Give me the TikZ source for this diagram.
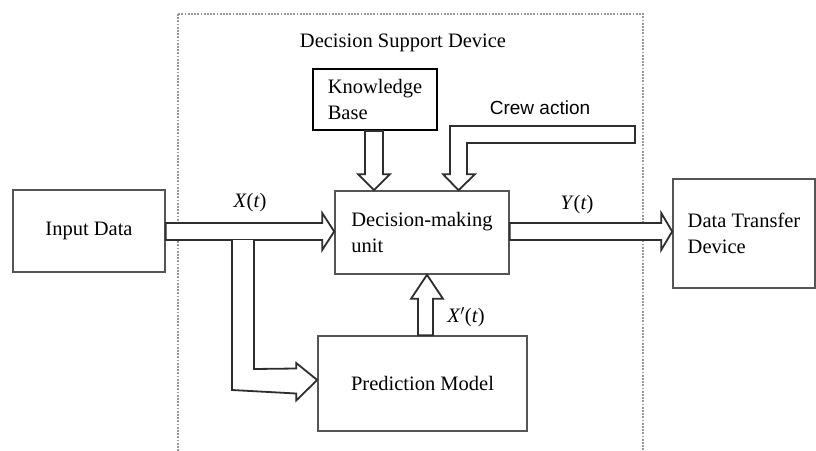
\documentclass[tikz,border=0pt]{standalone}
\usepackage{fontspec}
\setmainfont{Liberation Serif}
\setsansfont{Liberation Sans}
\usetikzlibrary{calc}
\definecolor{boxline}{HTML}{555555}
\definecolor{arrline}{HTML}{2E2E2E}
\definecolor{frameline}{HTML}{999999}
\tikzset{
  unit/.style={draw=boxline, line width=1.6pt, fill=white, inner sep=0pt,
    font=\fontsize{20.5}{26}\selectfont, align=left},
  blockarrow/.style={draw=arrline, line width=1.8pt, fill=white, line join=miter},
  lbl/.style={font=\fontsize{20.5}{26}\selectfont, inner sep=0pt},
  frame/.style={draw=frameline, line width=2pt, dash pattern=on 1.8pt off 1.4pt}
}
\begin{document}
\begin{tikzpicture}[x=1pt,y=-1pt]
  \clip (0,0) rectangle (816,450);
  \fill[white] (0,0) rectangle (816,450);

  % enclosing device frame (runs off the bottom edge)
  \draw[frame] (178,14) rectangle (643,470);
  \node[lbl] (dsd) at (403,43) {Decision Support Device};

  % blocks
  \node[unit, minimum width=152pt, minimum height=82pt, align=center] (inp) at (89,231) {Input Data};
  \node[unit, minimum width=174pt, minimum height=83pt] (dmu) at (422,232.5) {Decision-making\\unit};
  \node[unit, draw=black, line width=1.8pt, minimum width=124pt, minimum height=61pt] (kb) at (375,99.5) {Knowledge\\Base};
  \node[unit, minimum width=209pt, minimum height=95pt, align=center] (pm) at (422.5,383.5) {Prediction Model};
  \node[unit, minimum width=142pt, minimum height=109pt] (dtd) at (744,233.5) {Data Transfer\\Device};

  % X(t): input data -> decision-making unit
  \draw[blockarrow]
    ($(inp.east)+(0,-8)$) -- ($(dmu.west)+(-12,-9.5)$) -- ($(dmu.west)+(-12,-19.5)$)
    -- ($(dmu.west)+(0,-1)$) -- ($(dmu.west)+(-12,17.5)$) -- ($(dmu.west)+(-12,7.5)$)
    -- ($(inp.east)+(0,9)$) -- cycle;

  % branch of X(t) down to the prediction model
  \coordinate (br) at (243,240);
  \draw[blockarrow]
    ($(br)+(-11,0)$) -- ($(br)+(-11,150)$) -- ($(pm.west)+(-21,10)$) -- ($(pm.west)+(-21,17)$)
    -- ($(pm.west)+(0,-3.5)$) -- ($(pm.west)+(-21,-20.5)$) -- ($(pm.west)+(-21,-15)$)
    -- ($(br)+(11,129)$) -- ($(br)+(11,0)$);

  % Y(t): decision-making unit -> data transfer device
  \draw[blockarrow]
    ($(dmu.east)+(0,-9.5)$) -- ($(dtd.west)+(-11,-10.5)$) -- ($(dtd.west)+(-11,-20.5)$)
    -- ($(dtd.west)+(0,-2)$) -- ($(dtd.west)+(-11,16.5)$) -- ($(dtd.west)+(-11,6.5)$)
    -- ($(dmu.east)+(0,7.5)$) -- cycle;

  % knowledge base -> decision-making unit
  \draw[blockarrow]
    ($(kb.south)+(-10,0)$) -- ($(dmu.north)+(-57,-16)$) -- ($(dmu.north)+(-64,-16)$)
    -- ($(dmu.north)+(-48,0)$) -- ($(dmu.north)+(-32,-16)$) -- ($(dmu.north)+(-39,-16)$)
    -- ($(kb.south)+(8,0)$) -- cycle;

  % crew action -> decision-making unit
  \coordinate (crew) at (635,126);
  \draw[blockarrow]
    (crew) -- (450,126) -- ($(dmu.north)+(28,-16)$) -- ($(dmu.north)+(21,-16)$)
    -- ($(dmu.north)+(36.5,0)$) -- ($(dmu.north)+(53,-16)$) -- ($(dmu.north)+(45,-16)$)
    -- (467,143) -- ($(crew)+(0,17)$) -- cycle;
  \node[font=\sffamily\fontsize{19}{22}\selectfont, inner sep=0pt] (crewlbl) at (540,108) {Crew action};

  % X'(t): prediction model -> decision-making unit
  \draw[blockarrow]
    ($(pm.north)+(-4.5,0)$) -- ($(dmu.south)+(-4,24)$) -- ($(dmu.south)+(-11,24)$)
    -- ($(dmu.south)+(5,0)$) -- ($(dmu.south)+(21,24)$) -- ($(dmu.south)+(11,24)$)
    -- ($(pm.north)+(10.5,0)$) -- cycle;

  % signal labels
  \node[lbl] (xt) at (250,203) {\textit{X}(\textit{t})};
  \node[lbl] (yt) at (577,205) {\textit{Y}(\textit{t})};
  \node[lbl] (xpt) at (466,317) {\textit{X}$'$(\textit{t})};
\end{tikzpicture}
\end{document}
